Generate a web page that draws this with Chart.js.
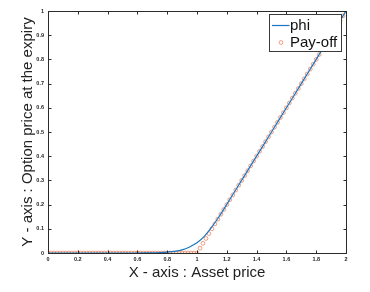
<!DOCTYPE html>
<html><head><meta charset="utf-8">
<script src="https://cdn.jsdelivr.net/npm/chart.js@4.4.1/dist/chart.umd.min.js"></script>
<style>html,body{margin:0;padding:0;background:#fff}#wrap{width:370px;height:292px}</style>
</head><body><div id="wrap"><canvas id="c" width="370" height="292"></canvas></div>
<script>
// ---- data ----
const phiX = [0,0.05,0.1,0.15,0.2,0.25,0.3,0.35,0.4,0.45,0.5,0.55,0.6,0.65,0.7,0.75,0.8,0.85,0.9,0.95,1,1.05,1.1,1.15,1.2,1.25,1.3,1.35,1.4,1.45,1.5,1.55,1.6,1.65,1.7,1.75,1.8,1.85,1.9,1.95,2];
const phiY = [0,0,0,0,0,0,0,0,0,0,0,0,0,0.0003,0.0008,0.002,0.004,0.007,0.013,0.025,0.042,0.070,0.108,0.152,0.201,0.251,0.301,0.3505,0.4002,0.45,0.5,0.55,0.6,0.65,0.7,0.75,0.8,0.85,0.9,0.95,1];
const payX = [0,0.02,0.04,0.06,0.08,0.1,0.12,0.14,0.16,0.18,0.2,0.22,0.24,0.26,0.28,0.3,0.32,0.34,0.36,0.38,0.4,0.42,0.44,0.46,0.48,0.5,0.52,0.54,0.56,0.58,0.6,0.62,0.64,0.66,0.68,0.7,0.72,0.74,0.76,0.78,0.8,0.82,0.84,0.86,0.88,0.9,0.92,0.94,0.96,0.98,1,1.02,1.04,1.06,1.08,1.1,1.12,1.14,1.16,1.18,1.2,1.22,1.24,1.26,1.28,1.3,1.32,1.34,1.36,1.38,1.4,1.42,1.44,1.46,1.48,1.5,1.52,1.54,1.56,1.58,1.6,1.62,1.64,1.66,1.68,1.7,1.72,1.74,1.76,1.78,1.8,1.82,1.84,1.86,1.88,1.9,1.92,1.94,1.96,1.98,2];
const payY = [0,0,0,0,0,0,0,0,0,0,0,0,0,0,0,0,0,0,0,0,0,0,0,0,0,0,0,0,0,0,0,0,0,0,0,0,0,0,0,0,0,0,0,0,0,0,0,0,0,0,0,0.02,0.04,0.06,0.08,0.1,0.12,0.14,0.16,0.18,0.2,0.22,0.24,0.26,0.28,0.3,0.32,0.34,0.36,0.38,0.4,0.42,0.44,0.46,0.48,0.5,0.52,0.54,0.56,0.58,0.6,0.62,0.64,0.66,0.68,0.7,0.72,0.74,0.76,0.78,0.8,0.82,0.84,0.86,0.88,0.9,0.92,0.94,0.96,0.98,1];
const xTicks = [0,0.2,0.4,0.6,0.8,1,1.2,1.4,1.6,1.8,2];
const yTicks = [0,0.1,0.2,0.3,0.4,0.5,0.6,0.7,0.8,0.9,1];
const seriesNames = ['phi','Pay-off'];
const xTitle = 'X - axis : Asset price';
const yTitle = 'Y - axis : Option price at the expiry';

const FONT = 'Liberation Sans, Arial, Helvetica, sans-serif';
const AXIS = '#2b2b2b';
const BLUE = '#1a76c0';
const ORANGE = 'rgba(232,112,70,0.75)';

const framePlugin = {
  id: 'frame',
  afterDatasetsDraw(chart) {
    const {ctx, chartArea: a, scales: {x, y}} = chart;
    ctx.save();
    ctx.strokeStyle = AXIS;
    ctx.lineWidth = 1;
    const L = Math.round(a.left) + 0.5, R = Math.round(a.right) + 0.5;
    const T = Math.round(a.top) + 0.5, B = Math.round(a.bottom) + 0.5;
    ctx.strokeRect(L, T, R - L, B - T);
    const tl = 3;
    ctx.beginPath();
    xTicks.forEach(v => {
      const px = Math.round(x.getPixelForValue(v)) + 0.5;
      ctx.moveTo(px, B); ctx.lineTo(px, B - tl);
      ctx.moveTo(px, T); ctx.lineTo(px, T + tl);
    });
    yTicks.forEach(v => {
      const py = Math.round(y.getPixelForValue(v)) + 0.5;
      ctx.moveTo(L, py); ctx.lineTo(L + tl, py);
      ctx.moveTo(R, py); ctx.lineTo(R - tl, py);
    });
    ctx.stroke();

    // legend box (inside plot, top-right)
    const bx = 269.5, by = 14.5, bw = 72, bh = 37;
    ctx.fillStyle = '#fff';
    ctx.fillRect(bx, by, bw, bh);
    ctx.strokeStyle = '#3a3a3a';
    ctx.strokeRect(bx, by, bw, bh);
    const ds = chart.data.datasets;
    ctx.strokeStyle = ds[0].borderColor;
    ctx.lineWidth = ds[0].borderWidth;
    ctx.beginPath(); ctx.moveTo(272, 25.5); ctx.lineTo(289.5, 25.5); ctx.stroke();
    ctx.strokeStyle = ds[1].borderColor;
    ctx.lineWidth = ds[1].borderWidth;
    ctx.beginPath(); ctx.arc(281, 42.5, ds[1].pointRadius, 0, Math.PI * 2); ctx.stroke();
    ctx.fillStyle = '#111';
    ctx.font = '15px ' + FONT;
    ctx.textBaseline = 'middle';
    ctx.textAlign = 'left';
    ctx.fillText(ds[0].label, 290, 26);
    ctx.fillText(ds[1].label, 290, 42.5);
    ctx.restore();
  }
};

new Chart(document.getElementById('c').getContext('2d'), {
  type: 'scatter',
  data: {
    datasets: [
      { label: seriesNames[0], data: phiX.map((v, i) => ({x: v, y: phiY[i]})), showLine: true,
        borderColor: BLUE, borderWidth: 1.2, pointRadius: 0, cubicInterpolationMode: 'monotone', order: 0 },
      { label: seriesNames[1], data: payX.map((v, i) => ({x: v, y: payY[i]})), showLine: false,
        pointStyle: 'circle', pointRadius: 1.9, borderColor: ORANGE, backgroundColor: 'rgba(0,0,0,0)',
        borderWidth: 0.9, order: 1 }
    ]
  },
  options: {
    responsive: false, animation: false, devicePixelRatio: 1,
    layout: { padding: { top: 11, right: 24, left: 0, bottom: 0 } },
    plugins: { legend: { display: false }, tooltip: { enabled: false } },
    scales: {
      x: {
        type: 'linear', min: 0, max: 2,
        afterBuildTicks: s => { s.ticks = xTicks.map(v => ({value: v})); },
        afterFit: s => { s.height = 39; },
        grid: { display: false, drawTicks: false }, border: { display: false },
        ticks: { font: { size: 5.5, weight: 'bold', family: FONT }, color: '#222', padding: 3,
                 maxRotation: 0, autoSkip: false, callback: v => String(v) },
        title: { display: true, text: xTitle, font: { size: 15, family: FONT }, color: '#222',
                 padding: { top: 0, bottom: 10 } }
      },
      y: {
        type: 'linear', min: 0, max: 1,
        afterBuildTicks: s => { s.ticks = yTicks.map(v => ({value: v})); },
        afterFit: s => { s.width = 48; },
        grid: { display: false, drawTicks: false }, border: { display: false },
        ticks: { font: { size: 5.5, weight: 'bold', family: FONT }, color: '#222', padding: 4,
                 autoSkip: false, callback: v => String(v) },
        title: { display: true, text: yTitle, font: { size: 15, family: FONT }, color: '#222',
                 padding: { top: 19, bottom: 0 } }
      }
    }
  },
  plugins: [framePlugin]
});
</script>
</body></html>
